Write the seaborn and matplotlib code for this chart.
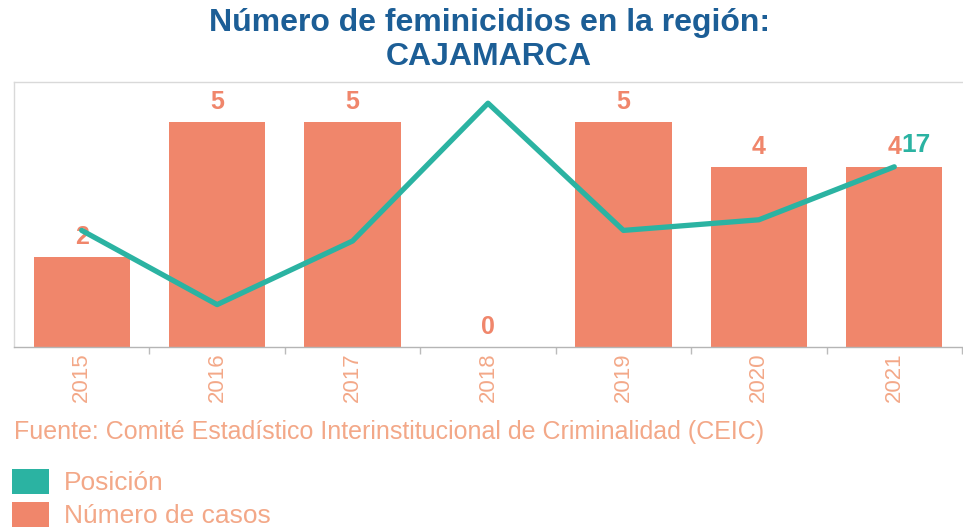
import numpy as np
import pandas as pd
import matplotlib
matplotlib.use("Agg")
import matplotlib.pyplot as plt
import seaborn as sns
from matplotlib.patches import Patch

years = ["2015", "2016", "2017", "2018", "2019", "2020", "2021"]
casos = [2, 5, 5, 0, 5, 4, 4]
posicion = [11, 4, 10, 23, 11, 12, 17]
titulo = "Número de feminicidios en la región:\nCAJAMARCA"
fuente = "Fuente: Comité Estadístico Interinstitucional de Criminalidad (CEIC)"
leyenda = ["Posición", "Número de casos"]

BAR = "#F0866B"
TEAL = "#2BB3A2"
TXT = "#F3A888"
BLUE = "#1C5E96"

sns.set_theme(style="white")
plt.rcParams["font.family"] = ["Liberation Sans", "DejaVu Sans"]

df = pd.DataFrame({"year": years, "casos": casos, "pos": posicion,
                   "idx": np.arange(len(years))})

fig = plt.figure(figsize=(9.63, 5.29), dpi=100)
ax = fig.add_axes([14 / 963, 1 - 347 / 529, 948 / 963, 265 / 529])

sns.barplot(data=df, x="year", y="casos", ax=ax, color=BAR, width=0.71,
            saturation=1, edgecolor="none")
ax.set_ylim(0, 5.89)
ax.set_xlim(-0.5, 6.5)
for c in ax.containers:
    ax.bar_label(c, padding=6, color=BAR, fontsize=18, fontweight="bold")

ax2 = ax.twinx()
sns.lineplot(data=df, x="idx", y="pos", ax=ax2, color=TEAL, linewidth=3.8)
ax2.set_ylim(0, 25)
ax2.set_xlim(-0.5, 6.5)
ax2.annotate(str(posicion[-1]), (df["idx"].iloc[-1], posicion[-1]),
             xytext=(5, 16), textcoords="offset points", ha="left", va="center",
             color=TEAL, fontsize=19, fontweight="bold")
ax2.axis("off")

ax.set_xlabel("")
ax.set_ylabel("")
ax.set_yticks([])
ax.tick_params(axis="x", which="major", length=0, labelrotation=90,
               labelsize=16, labelcolor=TXT, pad=4)
ax.set_xticks(np.arange(len(years)) + 0.5, minor=True)
ax.tick_params(axis="x", which="minor", length=5, color="#bbbbbb", bottom=True)
for s in ["left", "bottom", "top"]:
    ax.spines[s].set_color("#d9d9d9")
    ax.spines[s].set_linewidth(1)
ax.spines["bottom"].set_color("#b5b5b5")
ax.spines["right"].set_visible(False)

fig.text(0.508, 1 - 40 / 529, titulo, ha="center", va="center", color=BLUE,
         fontsize=23, fontweight="bold", linespacing=1.2)
fig.text(14 / 963, 1 - 432 / 529, fuente, ha="left", va="center",
         color=TXT, fontsize=18)

handles = [Patch(facecolor=TEAL, edgecolor="none"),
           Patch(facecolor=BAR, edgecolor="none")]
leg = fig.legend(handles, leyenda, loc="upper left",
                 bbox_to_anchor=(0.002, 1 - 458 / 529), frameon=False,
                 fontsize=19, handlelength=1.4, handleheight=1.1,
                 handletextpad=0.55, labelspacing=0.25, borderaxespad=0)
for t in leg.get_texts():
    t.set_color(TXT)

fig.savefig("out.png", dpi=100)
